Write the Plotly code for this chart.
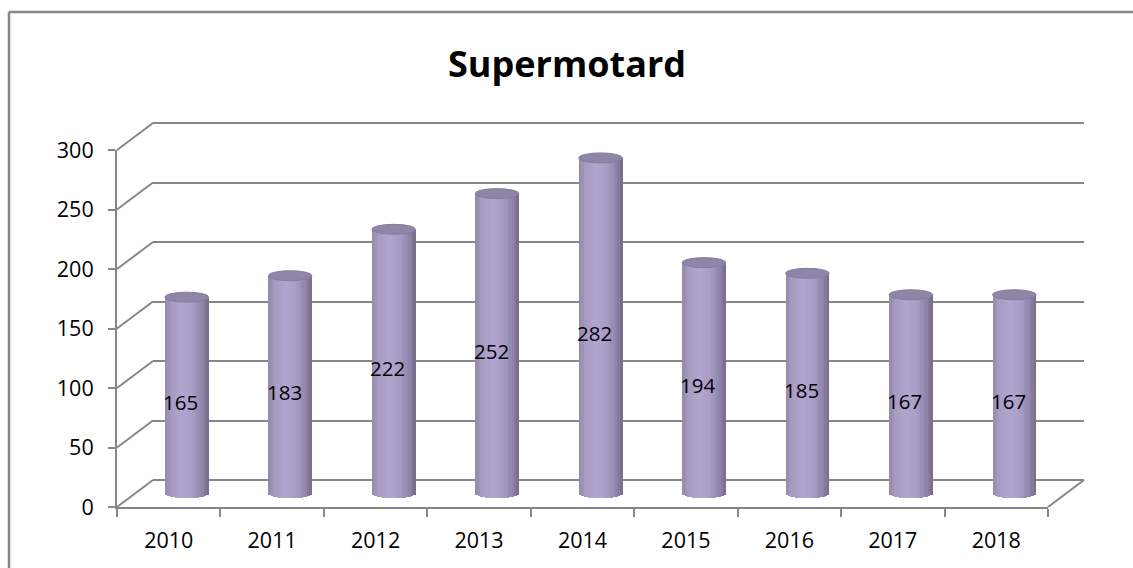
import math
import plotly.graph_objects as go

# ---- data ----
years = ["2010", "2011", "2012", "2013", "2014", "2015", "2016", "2017", "2018"]
values = [165, 183, 222, 252, 282, 194, 185, 167, 167]
y_ticks = [0, 50, 100, 150, 200, 250, 300]
title_text = "Supermotard"

W, H = 1133, 568
GRID = "#868686"
FONT = "Open Sans"


def fx(px):
    return px / W


def fy(py):
    return 1 - py / H


# front (axis) plane in pixels
FX0, FX1 = 117, 1048
FY0, FY300 = 507, 150
DX, DY = 36, 27  # depth offset to back wall
YMAX = 300.0


def ydom(py0, pytop, lo, hi):
    s = (py0 - pytop) / YMAX
    return [fy(py0 + (0 - lo) * s), fy(pytop - (hi - YMAX) * s)]


def py_of(v, py0, pytop):
    return py0 - v * (py0 - pytop) / YMAX


fig = go.Figure()

# cylinder bars drawn as vertical slices (mid depth axis x3/y3)
N = 18
BW = 0.42
px_per_unit = (FY0 - FY300) / YMAX
HE = 5.0 / px_per_unit  # half height of ellipse in data units


def slice_color(t):
    stops = [(0.0, (146, 136, 170)), (0.15, (166, 155, 194)), (0.4, (178, 166, 208)),
             (0.65, (168, 156, 198)), (0.88, (140, 129, 165)), (1.0, (116, 106, 136))]
    for (t0, c0), (t1, c1) in zip(stops[:-1], stops[1:]):
        if t0 <= t <= t1:
            a = (t - t0) / (t1 - t0)
            c = [round(c0[i] + a * (c1[i] - c0[i])) for i in range(3)]
            return "rgb(%d,%d,%d)" % tuple(c)
    return "rgb(116,106,136)"


xi = list(range(len(years)))
for k in range(N):
    t = (k + 0.5) / N
    base = -HE * 0.85 * math.sqrt(max(0.0, 1 - (2 * t - 1) ** 2))
    fig.add_trace(go.Bar(
        x=xi, y=[v - base for v in values], base=[base] * len(values),
        width=BW / N * 1.12, offset=-BW / 2 + k * BW / N,
        marker=dict(color=slice_color(t), line=dict(width=0)),
        xaxis="x3", yaxis="y3", showlegend=False, hoverinfo="skip",
    ))

# top ellipses
shapes = []
for i, v in enumerate(values):
    shapes.append(dict(type="circle", xref="x3", yref="y3",
                       x0=i - BW / 2, x1=i + BW / 2, y0=v - HE, y1=v + HE,
                       fillcolor="#8f85a6", line=dict(color="#877c9d", width=1),
                       layer="above"))

# value labels
annotations = []
for i, v in enumerate(values):
    annotations.append(dict(x=i, y=v / 2, xref="x3", yref="y3", text=str(v),
                            showarrow=False, xshift=-6, yshift=-7,
                            font=dict(family=FONT, size=20.5, color="#000000")))

# depth diagonals from the front axis ticks to the back wall gridlines
for v in y_ticks:
    shapes.append(dict(type="line", xref="paper", yref="paper",
                       x0=fx(FX0), y0=fy(py_of(v, FY0, FY300)),
                       x1=fx(FX0 + DX), y1=fy(py_of(v, FY0, FY300) - DY),
                       line=dict(color=GRID, width=2), layer="below"))
# floor right edge
shapes.append(dict(type="line", xref="paper", yref="paper",
                   x0=fx(FX1), y0=fy(FY0), x1=fx(FX1 + DX), y1=fy(FY0 - DY),
                   line=dict(color=GRID, width=2), layer="below"))
# outer chart frame (top and left edges only are within the view)
shapes.append(dict(type="line", xref="paper", yref="paper",
                   x0=fx(9), y0=fy(12), x1=1.0, y1=fy(12),
                   line=dict(color="#878787", width=2.5), layer="below"))
shapes.append(dict(type="line", xref="paper", yref="paper",
                   x0=fx(9), y0=fy(12), x1=fx(9), y1=0.0,
                   line=dict(color="#878787", width=2.5), layer="below"))

# dummy trace on back axis so gridlines render
fig.add_trace(go.Scatter(x=[0.5], y=[None], xaxis="x", yaxis="y",
                         showlegend=False, hoverinfo="skip"))
# dummy trace on front axis
fig.add_trace(go.Scatter(x=years, y=[None] * len(years), xaxis="x2", yaxis="y2",
                         showlegend=False, hoverinfo="skip", mode="markers"))

fig.update_layout(
    width=W, height=H,
    margin=dict(l=0, r=0, t=0, b=0, pad=0, autoexpand=False),
    paper_bgcolor="white", plot_bgcolor="rgba(0,0,0,0)",
    barmode="overlay", bargap=0,
    showlegend=False,
    font=dict(family=FONT, size=20, color="#000000"),
    # back wall
    xaxis=dict(domain=[fx(FX0 + DX), fx(FX1 + DX)], range=[0, 1],
               visible=False, fixedrange=True, automargin=False),
    yaxis=dict(domain=ydom(FY0 - DY, FY300 - DY, -1, YMAX + 1), range=[-1, YMAX + 1],
               tickvals=y_ticks, showgrid=True, gridcolor=GRID, gridwidth=2,
               showticklabels=False, zeroline=False, showline=False, ticks="",
               automargin=False),
    # front axes
    xaxis2=dict(domain=[fx(FX0), fx(FX1)], type="category", categoryarray=years,
                range=[-0.5, len(years) - 0.5], anchor="y2",
                showline=True, linecolor=GRID, linewidth=2,
                ticks="outside", tickson="boundaries", ticklen=8, tickcolor=GRID, tickwidth=2,
                showgrid=False, ticklabelstandoff=13, automargin=False,
                tickfont=dict(family=FONT, size=21.5, color="#000000")),
    yaxis2=dict(domain=ydom(FY0, FY300, 0, YMAX), range=[0, YMAX], anchor="x2",
                tickvals=y_ticks, showline=True, linecolor=GRID, linewidth=2,
                ticks="outside", ticklen=7, tickcolor=GRID, tickwidth=2,
                showgrid=False, zeroline=False, ticklabelstandoff=10, automargin=False,
                tickfont=dict(family=FONT, size=21.5, color="#000000")),
    # mid depth (bars)
    xaxis3=dict(domain=[fx(FX0 + DX / 2), fx(FX1 + DX / 2)],
                range=[-0.5, len(years) - 0.5], anchor="y3",
                showticklabels=False, showgrid=False, zeroline=False, showline=False,
                ticks="", automargin=False),
    yaxis3=dict(domain=ydom(FY0 - DY / 2, FY300 - DY / 2, -12, YMAX), range=[-12, YMAX],
                anchor="x3", showticklabels=False, showgrid=False, zeroline=False,
                showline=False, ticks="", automargin=False),
    shapes=shapes,
    annotations=annotations + [dict(
        x=0.5, y=fy(63), xref="paper", yref="paper", text="<b>%s</b>" % title_text,
        showarrow=False, yanchor="middle",
        font=dict(family=FONT, size=36, color="#000000"))],
)

fig.write_html("out.html", config={"displayModeBar": False},
               post_script="document.body.style.margin='0';"
                           "document.body.style.overflow='hidden';"
                           "document.documentElement.style.overflow='hidden';")
